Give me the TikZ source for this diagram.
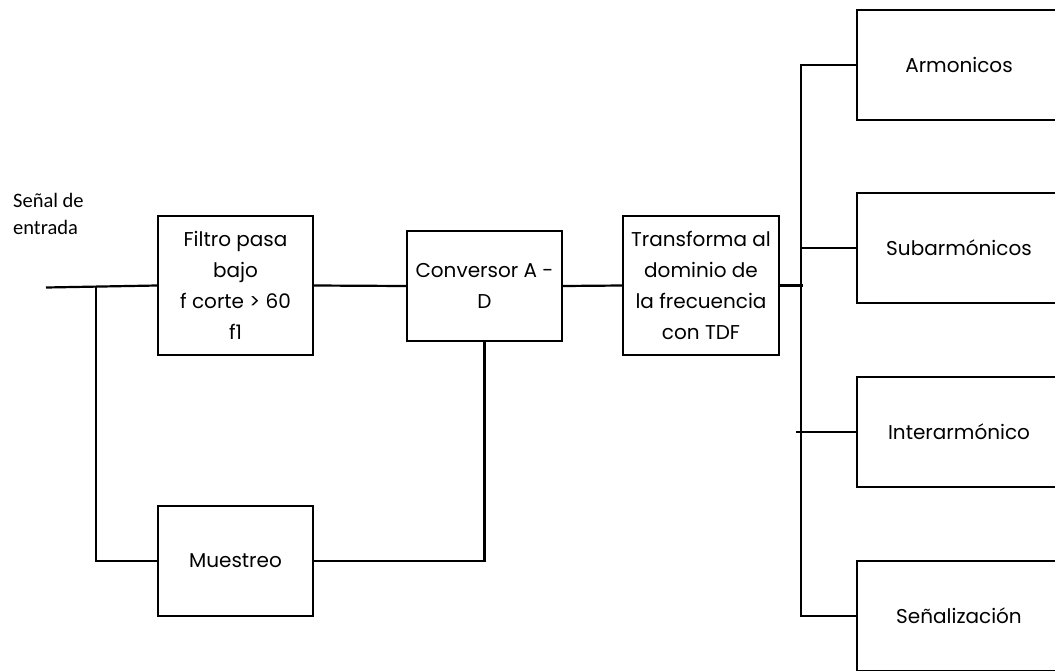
\documentclass[tikz,border=0pt]{standalone}
\usepackage{fontspec}
\setmainfont{Poppins}
\newfontfamily\calibrifont{Carlito}
\begin{document}
\begin{tikzpicture}[x=1pt,y=-1pt,
  block/.style={draw, line width=2.2pt, inner sep=0pt, align=center,
    font=\fontsize{20}{31}\selectfont},
  outbox/.style={block, minimum width=204pt, minimum height=110pt},
  wire/.style={line width=2.2pt, line join=miter},
]
\useasboundingbox (0,0) rectangle (1055,670);

% processing chain
\node[block, minimum width=155pt, minimum height=139pt] (filtro) at (235.5,285.5)
  {Filtro pasa\\bajo\\f corte > 60\\f1};
\node[block, minimum width=155pt, minimum height=110pt] (conv) at (484.5,286)
  {Conversor A -\\D};
\node[block, minimum width=156pt, minimum height=139pt] (trans) at (701,285.5)
  {Transforma al\\dominio de\\la frecuencia\\con TDF};
\node[block, minimum width=155pt, minimum height=110pt] (muestreo) at (235.5,561)
  {Muestreo};

% output blocks, cut off by the page edge
\begin{scope}
  \clip (0,0) rectangle (1055,670);
  \node[outbox] (armon)  at (959,65)  {Armonicos};
  \node[outbox] (subarm) at (959,248) {Subarmónicos};
  \node[outbox] (inter)  at (959,432) {Interarmónico};
  \node[outbox] (senal)  at (959,616) {Señalización};
\end{scope}

% input label
\node[font=\calibrifont\fontsize{20.5}{27}\selectfont, align=left, inner sep=0pt,
  anchor=north west] (entrada) at (13,193) {Señal de\\entrada};

% wiring
\coordinate (in)  at (46,287.5);
\coordinate (tap) at (96,287);
\draw[wire] (in) -- (filtro.west);
\draw[wire] (tap) |- (muestreo.west);
\draw[wire] (filtro.east) -- (conv.west);
\draw[wire] (conv.east) -- (trans.west);
\draw[wire] (muestreo.east) -| (conv.south);
\draw[wire] (trans.east) -- ++(23,0);
\draw[wire] (armon.west) -- ++(-55,0) |- (senal.west);
\draw[wire] (subarm.west) -- ++(-55,0);
\draw[wire] (inter.west) -- ++(-60,0);
\end{tikzpicture}
\end{document}
